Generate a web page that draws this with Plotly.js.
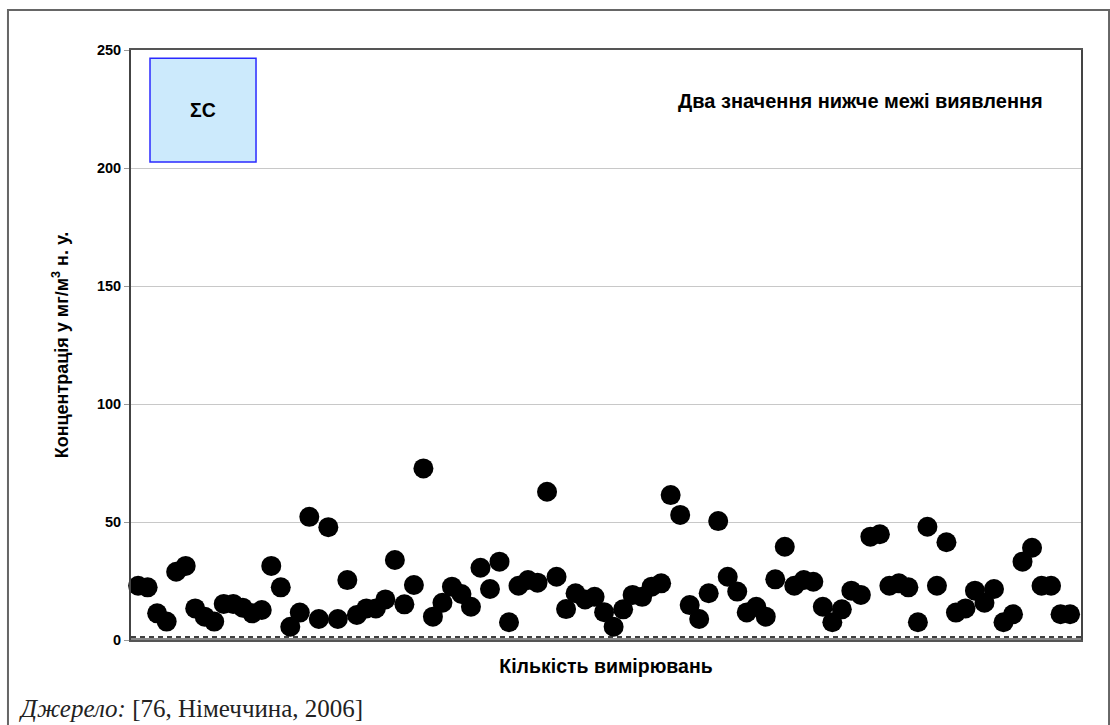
<!DOCTYPE html>
<html>
<head>
<meta charset="utf-8">
<script src="https://cdn.plot.ly/plotly-3.0.1.min.js"></script>
<style>html,body{margin:0;padding:0;background:#fff;}#chart{width:1110px;height:725px;}</style>
</head>
<body>
<div id="chart"></div>
<script>
// Measurement values (mg/m3 n.c.), in order of measurement
const concentrations = [
  23.0, 22.3, 11.3, 7.8, 28.9, 31.4, 13.4, 9.9, 7.8, 15.3,
  15.3, 13.7, 11.3, 12.7, 31.4, 22.3, 5.6, 11.6, 52.2, 8.9,
  47.8, 8.9, 25.4, 10.6, 13.4, 13.4, 17.2, 33.9, 15.1, 23.3,
  72.7, 9.9, 15.8, 22.6, 19.5, 14.1, 30.6, 21.6, 33.2, 7.5,
  23.0, 25.4, 24.3, 62.8, 26.8, 13.1, 19.8, 17.2, 18.3, 11.8,
  5.6, 13.0, 19.1, 18.3, 22.6, 24.0, 61.4, 53.0, 14.8, 8.9,
  19.8, 50.4, 26.8, 20.5, 11.7, 14.1, 9.9, 25.7, 39.5, 23.0,
  25.4, 24.7, 14.1, 7.5, 13.0, 20.9, 19.1, 43.8, 44.8, 23.0,
  24.0, 22.3, 7.5, 48.0, 23.0, 41.4, 11.6, 13.4, 20.9, 15.8,
  21.6, 7.5, 10.9, 33.2, 39.1, 23.0, 23.0, 10.9, 10.9
];
const measurementIndex = concentrations.map((_, i) => i + 1);
const detectionLimit = 1.3;
const yTicks = [0, 50, 100, 150, 200, 250];

const xTitle = 'Кількість вимірювань';
const yTitle = 'Концентрація у мг/м<sup>3</sup> н. у.';
const legendLabel = 'ΣC';
const noteText = 'Два значення нижче межі виявлення';
const sourceText = '<i>Джерело:</i> [76, Німеччина, 2006]';

const xRange = [0.25, 100.15];

const traces = [
  {
    type: 'scatter', mode: 'lines',
    x: xRange, y: [detectionLimit, detectionLimit],
    line: {color: '#000', width: 1.5, dash: '5px,4px'},
    hoverinfo: 'skip', showlegend: false, cliponaxis: false
  },
  {
    type: 'scatter', mode: 'markers',
    x: measurementIndex, y: concentrations,
    marker: {color: '#000', size: 20, line: {color: '#000', width: 0}},
    name: legendLabel, showlegend: false, cliponaxis: false
  }
];

const font = 'Liberation Sans, Arial, sans-serif';

const layout = {
  width: 1110, height: 725,
  margin: {l: 131, r: 29, t: 50, b: 85, pad: 0},
  paper_bgcolor: '#fff', plot_bgcolor: '#fff',
  font: {family: font, color: '#000'},
  showlegend: false,
  xaxis: {
    range: xRange, showticklabels: false, ticks: '', showgrid: false, zeroline: false,
    showline: true, linecolor: '#555', linewidth: 2, mirror: true,
    title: {text: '<b>' + xTitle + '</b>', font: {size: 19.5, family: font}, standoff: 18}
  },
  yaxis: {
    range: [0, 250], tickvals: yTicks, ticktext: yTicks.map(v => '<b>' + v + '</b>'),
    ticks: 'outside', ticklen: 5, tickcolor: '#999', tickwidth: 1,
    tickfont: {size: 14.5, family: font},
    showgrid: true, gridcolor: '#c8c8c8', gridwidth: 1, zeroline: false,
    showline: true, linecolor: '#444', linewidth: 2, mirror: true,
    title: {text: '<b>' + yTitle + '</b>', font: {size: 18, family: font}, standoff: 24}
  },
  shapes: [
    {type: 'rect', xref: 'paper', yref: 'paper', x0: -0.1295, x1: 1.0295, y0: -0.16, y1: 1.0678,
     line: {color: '#666', width: 2}, fillcolor: 'rgba(0,0,0,0)', layer: 'below'},
    {type: 'line', xref: 'paper', yref: 'paper', x0: 0, x1: 1, y0: 0, y1: 0,
     line: {color: '#888', width: 4}, layer: 'below'},
    {type: 'rect', xref: 'paper', yref: 'paper', x0: 0.02, x1: 0.1316, y0: 0.81, y1: 0.986,
     line: {color: '#2a2aff', width: 1.5}, fillcolor: '#cceafc'}
  ],
  annotations: [
    {xref: 'paper', yref: 'paper', x: 0.0758, y: 0.898, text: '<b>' + legendLabel + '</b>',
     showarrow: false, font: {size: 19.5, family: font}, xanchor: 'center', yanchor: 'middle'},
    {xref: 'paper', yref: 'paper', x: 0.9625, y: 0.913, text: '<b>' + noteText + '</b>',
     showarrow: false, font: {size: 20, family: font}, xanchor: 'right', yanchor: 'middle'},
    {xref: 'paper', yref: 'paper', x: -0.1200, y: -0.1153, text: sourceText,
     showarrow: false, font: {size: 25, family: 'Liberation Serif, Times New Roman, serif', color: '#222'},
     xanchor: 'left', yanchor: 'middle'}
  ]
};

Plotly.newPlot('chart', traces, layout, {displayModeBar: false, staticPlot: true});
</script>
</body>
</html>
